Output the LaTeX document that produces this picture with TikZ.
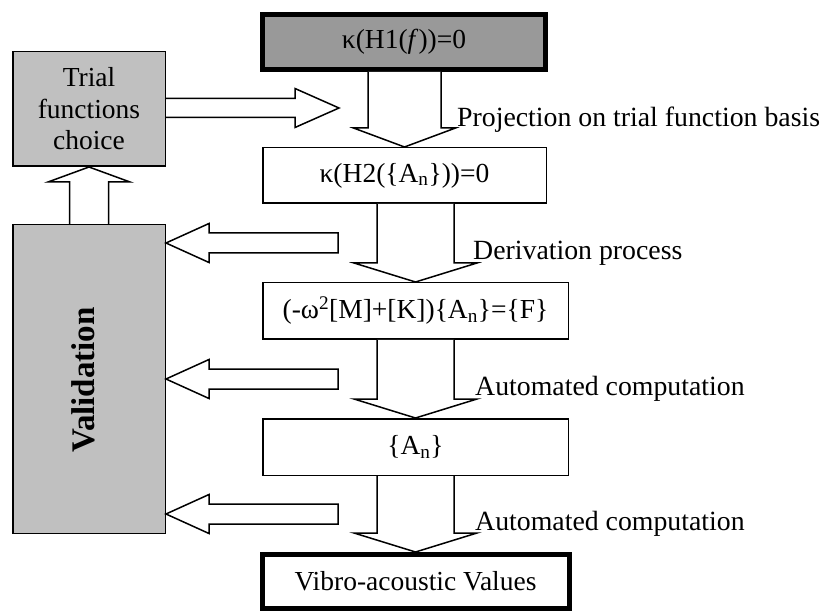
\documentclass[tikz,border=0pt]{standalone}
\usepackage{fontspec}
\setmainfont{Liberation Serif}
\usetikzlibrary{calc}
\definecolor{darkg}{HTML}{999999}
\definecolor{lightg}{HTML}{C0C0C0}
% vertical block arrow: #1 source node, #2 target node, #3 shaft half width, #4 wing half width, #5 head length
\newcommand\vblk[5]{%
  \draw[blk] let \p1=(#2.north), \p2=(#1.south) in
    (\x1-#3pt,\y2) -- (\x1-#3pt,\y1+#5pt) -- (\x1-#4pt,\y1+#5pt) -- (\x1,\y1)
    -- (\x1+#4pt,\y1+#5pt) -- (\x1+#3pt,\y1+#5pt) -- (\x1+#3pt,\y2);}
% left-pointing block arrow with tip at coordinate #1
\newcommand\lblk[1]{%
  \draw[blk] let \p1=(#1) in
    (\x1,\y1) -- (\x1+43pt,\y1+19.5pt) -- (\x1+43pt,\y1+10pt) -- (\x1+172pt,\y1+10pt)
    -- (\x1+172pt,\y1-10pt) -- (\x1+43pt,\y1-10pt) -- (\x1+43pt,\y1-19.5pt) -- cycle;}
\begin{document}
\begin{tikzpicture}[x=1pt,y=-1pt,
  box/.style={draw, line width=1.5pt, fill=white, inner sep=0pt, align=center,
    font=\fontsize{27.5}{31.5}\selectfont},
  thickbox/.style={box, line width=5pt},
  blk/.style={draw, line width=1.5pt, fill=white, line join=miter},
  lbl/.style={anchor=base west, inner sep=0pt, font=\fontsize{27.8}{31}\selectfont}]
\useasboundingbox (0,0) rectangle (822,612);

% boxes
\node[thickbox, fill=darkg, minimum width=283pt, minimum height=55pt] (b1) at (404,42) {κ(H1(\textit{f}))=0};
\node[box, minimum width=283.5pt, minimum height=55.5pt] (b2) at (404.5,175.5) {κ(H2(\{A\textsubscript{n}\}))=0};
\node[box, minimum width=305.5pt, minimum height=56.5pt] (b3) at (415.5,311) {(-ω\textsuperscript{2}[M]+[K])\{A\textsubscript{n}\}=\{F\}};
\node[box, minimum width=305.5pt, minimum height=56.5pt] (b4) at (415.5,447) {\{A\textsubscript{n}\}};
\node[thickbox, minimum width=307pt, minimum height=54pt] (b5) at (415.5,581.5) {Vibro-acoustic Values};
\node[box, fill=lightg, minimum width=152.5pt, minimum height=114.5pt] (trial) at (89,109) {Trial\\functions\\choice};
\node[box, fill=lightg, minimum width=152.5pt, minimum height=308.5pt] (valid) at (89,379) {};
\node[rotate=90, inner sep=0pt, font=\fontsize{33}{36}\selectfont\bfseries] (vtext) at (83.5,380) {Validation};

% vertical flow arrows
\vblk{b1}{b2}{36.5}{51}{19}
\vblk{b2}{b3}{38.5}{61.5}{19}
\vblk{b3}{b4}{38.5}{61.5}{19}
\vblk{b4}{b5}{38.5}{61.5}{19}

% labels
\node[lbl] (l1) at (457,127) {Projection on trial function basis};
\node[lbl] (l2) at (473,260) {Derivation process};
\node[lbl] (l3) at (475,395) {Automated computation};
\node[lbl] (l4) at (475,530) {Automated computation};

% arrows back to validation
\coordinate (t1) at (valid.east |- 0,243);
\coordinate (t2) at (valid.east |- 0,379);
\coordinate (t3) at (valid.east |- 0,514);
\lblk{t1}
\lblk{t2}
\lblk{t3}

% trial -> right arrow
\coordinate (tt) at (339,108);
\draw[blk] let \p1=(tt), \p2=(trial.east) in
  (\x2,\y1+9.5pt) -- (\x1-44pt,\y1+9.5pt) -- (\x1-44pt,\y1+19.5pt) -- (\x1,\y1)
  -- (\x1-44pt,\y1-19.5pt) -- (\x1-44pt,\y1-9.5pt) -- (\x2,\y1-9.5pt);

% validation -> trial arrow
\draw[blk] let \p1=(trial.south), \p2=(valid.north) in
  (\x1-19.5pt,\y2) -- (\x1-19.5pt,\y1-15pt) -- (\x1-41pt,\y1-15pt) -- (\x1,\y1)
  -- (\x1+41pt,\y1-15pt) -- (\x1+19.5pt,\y1-15pt) -- (\x1+19.5pt,\y2);
\end{tikzpicture}
\end{document}
